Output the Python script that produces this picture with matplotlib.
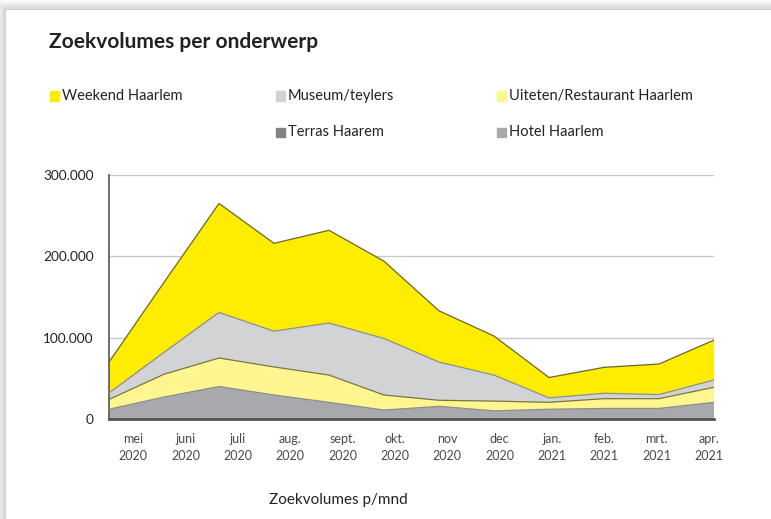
import numpy as np
import matplotlib
matplotlib.use("Agg")
import matplotlib.pyplot as plt
from matplotlib.patches import Rectangle

months = ["mei\n2020", "juni\n2020", "juli\n2020", "aug.\n2020", "sept.\n2020", "okt.\n2020",
          "nov\n2020", "dec\n2020", "jan.\n2021", "feb.\n2021", "mrt.\n2021", "apr.\n2021"]

# stacked from the bottom up
terras = [1500, 1500, 1500, 1500, 1500, 1500, 1500, 1500, 1500, 1500, 1500, 1500]
hotel = [10500, 25500, 38500, 28000, 19000, 9500, 14100, 8500, 10500, 11500, 11500, 19000]
uiteten = [12000, 28000, 35000, 34500, 33500, 18500, 7400, 12000, 8500, 12000, 12000, 18500]
museum = [8000, 27000, 56000, 44000, 64000, 69500, 47000, 32000, 5500, 6600, 5000, 9000]
weekend = [38000, 86000, 134000, 108000, 114000, 95000, 63000, 48000, 25000, 31900, 37600, 49000]

names = ["Terras Haarem", "Hotel Haarlem", "Uiteten/Restaurant Haarlem", "Museum/teylers", "Weekend Haarlem"]
colors = ["#808285", "#a7a9ac", "#fff68f", "#d1d3d4", "#ffed00"]
edges = ["#5f5f5f", "#8c8c8c", "#7a7640", "#8e8e8e", "#6b6630"]

yticks = [0, 100000, 200000, 300000]
ylabels = ["0", "100.000", "200.000", "300.000"]

W, H = 771, 519
plt.rcParams["font.family"] = ["Lato", "DejaVu Sans"]
fig = plt.figure(figsize=(W / 100, H / 100), dpi=100)

# page background with a soft shadow above/left of the white card
bg = fig.add_axes([0, 0, 1, 1], zorder=-5)
yy, xx = np.mgrid[0:H, 0:W]
d = np.maximum(np.clip(6 - xx, 0, None), np.clip(10 - yy, 0, None))
shade = np.where(d > 0, np.clip(0.80 + 0.02 * d, 0, 0.97), 1.0)
bg.imshow(shade, cmap="gray", vmin=0, vmax=1, aspect="auto", interpolation="nearest")
bg.axis("off")

ax = fig.add_axes([109 / W, (H - 419) / H, (714 - 109) / W, (419 - 175) / H])
x = np.arange(len(months))
series = [terras, hotel, uiteten, museum, weekend]
ax.stackplot(x, *series, colors=colors, linewidth=0, zorder=2)
tops = np.cumsum(np.array(series), axis=0)
for top, ec in zip(tops, edges):
    ax.plot(x, top, color=ec, lw=0.9, zorder=3)

ax.set_xlim(0, 11)
ax.set_ylim(0, 300000)
ax.set_yticks(yticks)
ax.set_yticklabels(ylabels, fontsize=9.8, color="#222222")
for v in yticks[1:]:
    ax.axhline(v, color="#c8c8c8", lw=1, zorder=1)
ax.tick_params(axis="y", length=0, pad=11)

ax.set_xticks(np.linspace(0.44, 10.91, 12))
ax.set_xticklabels(months, fontsize=9, color="#4a4a4a", linespacing=1.5)
ax.tick_params(axis="x", length=0, pad=10)

for s in ["top", "right"]:
    ax.spines[s].set_visible(False)
ax.spines["left"].set_color("#555555")
ax.spines["left"].set_linewidth(1.2)
ax.spines["bottom"].set_color("#555555")
ax.spines["bottom"].set_linewidth(2)
ax.spines["bottom"].set_zorder(4)

fig.text(49 / W, 1 - 42 / H, "Zoekvolumes per onderwerp", fontsize=15, fontweight="bold",
         color="#222222", va="center")

legend_pos = [(50, 96, 4), (276, 96, 3), (497, 96, 2), (276, 132, 0), (497, 132, 1)]
for px, py, i in legend_pos:
    fig.patches.append(Rectangle((px / W, 1 - (py + 4.5) / H), 9 / W, 9 / H,
                                 transform=fig.transFigure, color=colors[i]))
    fig.text((px + 12) / W, 1 - py / H, names[i], fontsize=10.5, color="#222222", va="center")

fig.text(338 / W, 1 - 500 / H, "Zoekvolumes p/mnd", fontsize=11, color="#222222",
         ha="center", va="center")

fig.savefig("out.png", dpi=100)
